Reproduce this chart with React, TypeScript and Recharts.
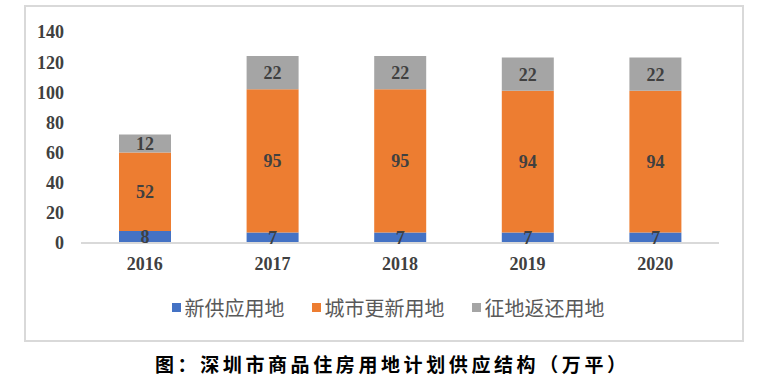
import { Bar, BarChart, LabelList, XAxis, YAxis } from 'recharts'

const years = ['2016', '2017', '2018', '2019', '2020']
const newSupply = [8, 7, 7, 7, 7]
const urbanRenewal = [52, 95, 95, 94, 94]
const requisitionReturn = [12, 22, 22, 22, 22]
const yTicks = [0, 20, 40, 60, 80, 100, 120, 140]

const series = [
  { key: 'newSupply', name: '新供应用地', color: '#4472C4' },
  { key: 'urbanRenewal', name: '城市更新用地', color: '#ED7D31' },
  { key: 'requisitionReturn', name: '征地返还用地', color: '#A5A5A5' },
]

const data = years.map((year, i) => ({
  year,
  newSupply: newSupply[i],
  urbanRenewal: urbanRenewal[i],
  requisitionReturn: requisitionReturn[i],
}))

const serif = '"Liberation Serif", "Times New Roman", serif'
const cjk = '"Noto Sans CJK SC", "Noto Sans", sans-serif'

export default function App() {
  return (
    <div style={{ position: 'absolute', left: 0, top: 0, width: 770, height: 392, background: '#fff' }}>
      {/* chart frame */}
      <div
        style={{
          position: 'absolute',
          left: 24,
          top: 5,
          width: 716,
          height: 333,
          border: '2px solid #d9d9d9',
        }}
      />
      <div style={{ position: 'absolute', left: 0, top: 0 }}>
        <BarChart
          width={770}
          height={300}
          data={data}
          margin={{ top: 32, right: 51, left: 21, bottom: 27 }}
          barSize={52}
        >
          <XAxis
            dataKey="year"
            axisLine={{ stroke: '#d9d9d9', strokeWidth: 2 }}
            tickLine={false}
            tickMargin={8}
            height={30}
            tick={{ fontSize: 18, fontWeight: 700, fill: '#404040', fontFamily: serif }}
          />
          <YAxis
            domain={[0, 140]}
            ticks={yTicks}
            axisLine={false}
            tickLine={false}
            tickMargin={11}
            width={60}
            interval={0}
            tick={{ fontSize: 18, fontWeight: 700, fill: '#404040', fontFamily: serif }}
          />
          {series.map(s => (
            <Bar key={s.key} dataKey={s.key} name={s.name} stackId="a" fill={s.color} isAnimationActive={false}>
              <LabelList
                dataKey={s.key}
                position="center"
                fill="#404040"
                style={{ fontSize: 18, fontWeight: 700, fontFamily: serif }}
              />
            </Bar>
          ))}
        </BarChart>
      </div>

      {/* Legend */}
      <div
        style={{
          position: 'absolute',
          left: 0,
          top: 293,
          width: 776,
          display: 'flex',
          justifyContent: 'center',
          alignItems: 'center',
          gap: 27,
          fontFamily: cjk,
          fontSize: 20,
          color: '#595959',
        }}
      >
        {series.map(s => (
          <div key={s.key} style={{ display: 'flex', alignItems: 'center', gap: 4 }}>
            <div style={{ width: 9, height: 9, background: s.color }} />
            <span>{s.name}</span>
          </div>
        ))}
      </div>

      {/* Caption */}
      <div
        style={{
          position: 'absolute',
          left: 155,
          top: 350,
          fontFamily: cjk,
          fontSize: 19,
          fontWeight: 700,
          letterSpacing: 3.6,
          color: '#000',
          whiteSpace: 'nowrap',
        }}
      >
        图：深圳市商品住房用地计划供应结构（万平）
      </div>
    </div>
  )
}
